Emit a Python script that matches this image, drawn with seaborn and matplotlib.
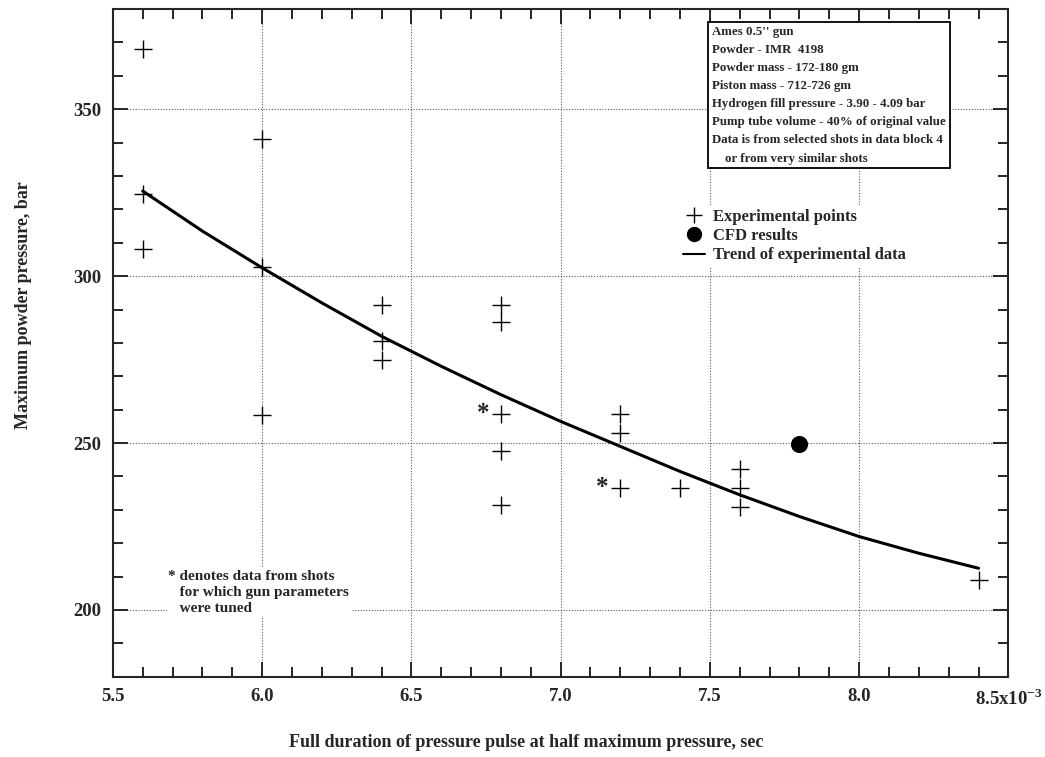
import matplotlib
matplotlib.use("Agg")
import matplotlib.pyplot as plt
from matplotlib.lines import Line2D
from matplotlib.ticker import MultipleLocator, FixedLocator
import seaborn as sns
import pandas as pd

# experimental points (duration in units of 1e-3 s, pressure in bar)
exp_x = [5.6, 5.6, 5.6, 6.0, 6.0, 6.0, 6.4, 6.4, 6.4,
         6.8, 6.8, 6.8, 6.8, 6.8, 7.2, 7.2, 7.2, 7.4,
         7.6, 7.6, 7.6, 8.4]
exp_y = [368.0, 324.5, 308.0, 341.0, 302.8, 258.5, 291.5, 280.5, 275.0,
         291.5, 286.2, 258.8, 247.6, 231.3, 258.8, 253.1, 236.6, 236.6,
         242.3, 236.6, 231.0, 208.9]

# CFD result
cfd_x = [7.8]
cfd_y = [249.7]

trend_x = [5.6, 5.8, 6.0, 6.2, 6.4, 6.6, 6.8, 7.0, 7.2, 7.4, 7.6, 7.8, 8.0, 8.2, 8.4]
trend_y = [325.5, 313.5, 302.5, 292.0, 282.0, 273.0, 264.5, 256.5, 249.0,
           241.5, 234.5, 228.0, 222.0, 217.0, 212.5]

# tuned shots marked with *
star_x = [6.8, 7.2]
star_y = [258.8, 236.6]

x_ticks = [5.5, 6.0, 6.5, 7.0, 7.5, 8.0, 8.5]
x_ticklabels = ["5.5", "6.0", "6.5", "7.0", "7.5", "8.0", r"8.5x10$^{\mathbf{-3}}$"]
y_ticks = [200, 250, 300, 350]

info_lines = [
    "Ames 0.5'' gun",
    "Powder - IMR  4198",
    "Powder mass - 172-180 gm",
    "Piston mass - 712-726 gm",
    "Hydrogen fill pressure - 3.90 - 4.09 bar",
    "Pump tube volume - 40% of original value",
    "Data is from selected shots in data block 4",
    "    or from very similar shots",
]
note_lines = ["* denotes data from shots", "   for which gun parameters", "   were tuned"]

sns.set_style("ticks")
plt.rcParams["font.family"] = ["Liberation Serif", "DejaVu Serif"]
plt.rcParams["font.weight"] = "bold"
plt.rcParams["mathtext.fontset"] = "custom"
plt.rcParams["mathtext.rm"] = "Liberation Serif:bold"
plt.rcParams["mathtext.bf"] = "Liberation Serif:bold"

fig = plt.figure(figsize=(10.45, 7.57), dpi=100)
ax = fig.add_axes([0.108, 0.106, 0.857, 0.882])

exp_df = pd.DataFrame({"x": exp_x, "y": exp_y})
cfd_df = pd.DataFrame({"x": cfd_x, "y": cfd_y})
trend_df = pd.DataFrame({"x": trend_x, "y": trend_y})

sns.lineplot(data=trend_df, x="x", y="y", ax=ax, color="black", linewidth=2.2,
             zorder=3, sort=True)
sns.scatterplot(data=exp_df, x="x", y="y", ax=ax, marker="+", s=170,
                color="black", linewidth=1.0, zorder=4)
sns.scatterplot(data=cfd_df, x="x", y="y", ax=ax, marker="o", s=130,
                color="black", edgecolor="black", zorder=4)

for sx, sy in zip(star_x, star_y):
    ax.text(sx - 0.04, sy, "*", ha="right", va="center", fontsize=18,
            fontweight="bold", zorder=4)

ax.set_xlim(5.5, 8.5)
ax.set_ylim(180, 380)
ax.xaxis.set_major_locator(FixedLocator(x_ticks))
ax.set_xticklabels(x_ticklabels)
ax.xaxis.set_minor_locator(MultipleLocator(0.1))
ax.yaxis.set_major_locator(FixedLocator(y_ticks))
ax.yaxis.set_minor_locator(MultipleLocator(10))

ax.tick_params(which="both", direction="in", top=True, right=True,
               labelsize=13.5, width=1.4, pad=8)
ax.tick_params(which="major", length=11)
ax.tick_params(which="minor", length=7)
for lab in ax.get_xticklabels() + ax.get_yticklabels():
    lab.set_fontweight("bold")
for sp in ax.spines.values():
    sp.set_linewidth(1.5)

ax.grid(True, which="major", linestyle=(0, (1, 1.5)), color="0.35", linewidth=0.8)
ax.set_axisbelow(True)

ax.set_xlabel("Full duration of pressure pulse at half maximum pressure, sec",
              fontsize=13, fontweight="bold")
ax.set_ylabel("Maximum powder pressure, bar", fontsize=13, fontweight="bold")
ax.xaxis.set_label_coords(0.461, -0.085)
ax.yaxis.set_label_coords(-0.09, 0.557)

ax.text(0.669, 0.975, "\n".join(info_lines), transform=ax.transAxes,
        ha="left", va="top", fontsize=9.3, fontweight="bold", linespacing=1.68,
        zorder=6,
        bbox=dict(boxstyle="square,pad=0.3", facecolor="white",
                  edgecolor="black", linewidth=1.3))

ax.text(0.062, 0.16, "\n".join(note_lines), transform=ax.transAxes,
        ha="left", va="top", fontsize=11, fontweight="bold", linespacing=1.3,
        zorder=6,
        bbox=dict(boxstyle="square,pad=0.1", facecolor="white", edgecolor="none"))

handles = [
    Line2D([], [], linestyle="none", marker="+", markersize=11,
           markeredgewidth=1.0, color="black"),
    Line2D([], [], linestyle="none", marker="o", markersize=10, color="black"),
    Line2D([], [], linestyle="-", linewidth=1.5, color="black"),
]
labels = ["Experimental points", "CFD results", "Trend of experimental data"]
leg = ax.legend(handles, labels, loc="upper left", bbox_to_anchor=(0.633, 0.706),
                frameon=True, fontsize=12, handlelength=1.3, handletextpad=0.5,
                labelspacing=0.2, borderpad=0.2, borderaxespad=0.0)
leg.get_frame().set_facecolor("white")
leg.get_frame().set_edgecolor("none")
leg.get_frame().set_alpha(1.0)
for t in leg.get_texts():
    t.set_fontweight("bold")

fig.savefig("out.png", dpi=100)
